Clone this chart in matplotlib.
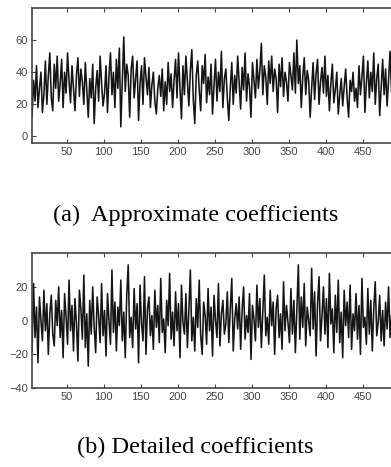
import numpy as np
import matplotlib
matplotlib.use("Agg")
from matplotlib import pyplot as plt

# approximate coefficients (every 2nd sample)
approx = [28, 12, 35, 22, 44, 18, 30, 40, 15, 26, 47, 20, 38, 52, 24, 16, 45, 30, 50, 22,
          33, 48, 18, 40, 27, 52, 35, 21, 44, 30, 16, 38, 49, 25, 42, 34, 20, 46, 29, 12,
          36, 24, 45, 8, 30, 41, 22, 50, 33, 19, 27, 44, 15, 38, 52, 26, 40, 18, 48, 30,
          55, 6, 34, 62, 28, 45, 38, 12, 42, 50, 24, 36, 47, 10, 33, 44, 20, 49, 37, 26,
          43, 18, 32, 40, 22, 14, 30, 38, 25, 42, 16, 34, 20, 46, 28, 39, 18, 35, 48, 24,
          52, 30, 11, 44, 26, 50, 35, 19, 41, 54, 23, 8, 38, 47, 29, 16, 44, 33, 51, 21,
          37, 26, 45, 14, 32, 48, 22, 40, 28, 53, 18, 36, 42, 24, 10, 30, 46, 20, 38, 27,
          50, 34, 17, 43, 29, 52, 22, 39, 31, 12, 46, 35, 24, 48, 30, 41, 58, 26, 44, 37,
          20, 47, 33, 50, 28, 42, 36, 15, 45, 31, 49, 25, 40, 34, 22, 46, 38, 29, 52, 27,
          60, 33, 44, 18, 37, 49, 26, 41, 35, 12, 30, 46, 23, 39, 48, 20, 34, 43, 27, 50,
          25, 38, 16, 33, 45, 21, 29, 40, 14, 26, 36, 19, 31, 42, 24, 12, 35, 28, 40, 22,
          30, 18, 44, 26, 37, 50, 15, 33, 47, 24, 40, 28, 52, 20, 36, 45, 13, 30, 48, 26,
          42, 19, 35, 53, 28]

# detailed coefficients
detail = [5, -18, 22, -10, 8, -25, 14, 0, -12, 18, -6, 10, -20, 4, 15, -8, -15, 12, -3, 20,
          -10, 6, -22, 16, 2, -14, 24, -6, 9, -18, 13, -2, -24, 18, 7, -11, 27, -16, 4, -27,
          12, -8, 20, -4, -19, 14, 3, -13, 22, -9, 6, -21, 16, 0, -14, 30, -7, 11, -18, 8,
          -3, 24, -12, 5, -22, 15, 33, -10, 2, -16, 19, -5, 10, -25, 21, -2, -12, 26, -20, 7,
          14, -9, 3, -17, 18, -4, 9, -13, 25, -7, 1, -19, 12, -3, 28, -11, 5, -15, 17, -6,
          10, -22, 21, -1, -8, 16, -16, 6, 30, -12, 2, -18, 13, -4, 24, -9, -20, 11, 3, -14,
          19, -6, 8, -21, 15, 0, -10, 22, -15, 4, 12, -8, -2, 17, -13, 7, 25, -18, 1, 10,
          -5, 14, -17, 6, 20, -11, 3, -7, 16, -23, 9, 1, -12, 21, -4, 13, -16, 5, 27, -9,
          2, -14, 18, -3, 11, -20, 7, 15, -10, 4, -17, 23, -6, 9, -1, -13, 19, -8, 12, -19,
          6, 33, -11, 14, -4, 22, -15, 8, 0, -9, 31, -5, 17, -21, 10, 26, -12, 3, 20, -8,
          13, -16, 28, -2, 7, -19, 15, -7, 24, -13, 5, -22, 18, -3, 11, -10, 21, -17, 4, -6,
          16, -11, 9, -20, 25, -4, 2, -14, 19, -8, 12, -18, 7, 23, -9, -1, 15, -12, 6, -15,
          11, -5, 20, -10, 3]

xticks = [50, 100, 150, 200, 250, 300, 350, 400, 450]
captions = ["(a)  Approximate coefficients", "(b) Detailed coefficients"]

x = np.arange(1, 2 * len(approx), 2)

fig = plt.figure(figsize=(3.91, 4.67), dpi=100)
ax1 = fig.add_axes([0.082, 0.694, 0.925, 0.289])
ax2 = fig.add_axes([0.082, 0.169, 0.925, 0.289])

for ax, y, yl, yt in [(ax1, approx, (-4, 80), [0, 20, 40, 60]),
                      (ax2, detail, (-40, 40), [-40, -20, 0, 20])]:
    ax.plot(x, y, color="#151515", lw=1.15)
    ax.set_xlim(3, 492)
    ax.set_ylim(*yl)
    ax.set_xticks(xticks)
    ax.set_yticks(yt)
    ax.tick_params(direction="in", length=3, top=True, right=False,
                   labelsize=8, colors="#444444", pad=3)
    for s in ax.spines.values():
        s.set_color("#444444")
        s.set_linewidth(1.2)
    for lab in ax.get_xticklabels() + ax.get_yticklabels():
        lab.set_family("Liberation Sans")

fig.text(0.50, 1 - 215 / 467, captions[0], ha="center", va="center",
         family="Liberation Serif", fontsize=17.5)
fig.text(0.50, 1 - 447 / 467, captions[1], ha="center", va="center",
         family="Liberation Serif", fontsize=17.5)

fig.savefig("out.png", dpi=100)
